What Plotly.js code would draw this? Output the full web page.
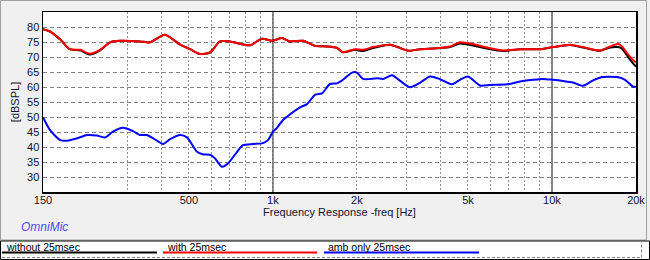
<!DOCTYPE html>
<html>
<head>
<meta charset="utf-8">
<script src="https://cdn.plot.ly/plotly-3.0.1.min.js"></script>
<style>
html,body{margin:0;padding:0;background:#f0f0f0;}
#chart{width:650px;height:260px;}
</style>
</head>
<body>
<div id="chart"></div>
<script>
// ---- data ----
const freqWith = [150,159,173,187,204,221,240,261,283,334,363,410,465,505,548,595,646,702,762,828,914,992,1078,1151,1282,1415,1562,1697,1783,1968,2103,2283,2627,2853,3048,3365,3969,4311,4682,5211,5847,6675,7680,9054,10080,11600,12915,14860,16140,17240,17820,18570,19350,20000];
const dbWith   = [79.3,78.5,75.8,72.6,72.4,71.1,72.4,74.9,75.4,75.2,74.9,77.4,74.1,72.6,71.0,71.5,75.2,75.2,74.4,73.9,76.1,75.4,76.3,75.2,75.4,73.7,73.5,73.0,71.6,72.6,72.4,73.3,74.1,73.0,72.1,72.6,73.0,73.5,74.9,74.3,73.2,72.2,72.6,72.6,73.3,74.1,73.3,72.2,73.5,74.3,73.5,71.3,69.3,68.2];

const freqWithout = [150,159,173,187,204,221,240,261,283,334,363,410,465,505,548,595,646,702,762,828,914,992,1078,1151,1282,1415,1562,1697,1783,1968,2103,2283,2627,2853,3048,3365,3969,4311,4682,5211,5847,6675,7680,9054,10080,11600,12915,14860,16140,17240,17820,18570,19350,20000];
const dbWithout   = [79.3,78.5,75.8,72.6,72.2,70.8,72.2,74.9,75.4,75.2,74.9,77.4,74.1,72.6,71.0,71.5,75.2,75.2,74.4,73.9,76.1,75.4,76.3,75.2,75.4,73.7,73.5,73.0,71.6,72.4,72.0,73.0,74.1,73.0,72.1,72.6,73.0,73.3,74.5,73.8,72.8,72.0,72.6,72.6,73.3,74.0,73.2,72.1,73.2,73.3,72.8,70.5,68.3,66.8];

const freqAmb = [150,159,173,183,199,216,234,250,267,290,315,334,354,384,404,428,465,492,535,560,600,620,657,690,744,781,848,914,960,1000,1034,1087,1123,1250,1325,1415,1500,1601,1697,1783,1920,2001,2103,2360,2480,2671,2853,3099,3365,3654,3969,4383,4682,5001,5521,5994,6900,7680,8550,9282,10080,10950,11890,12915,13910,15110,17100,18270,19510,20000];
const dbAmb   = [49.9,45.6,42.3,42.1,42.9,44.0,43.8,43.2,45.1,46.4,45.3,44.0,44.0,42.1,41.0,42.6,44.0,43.2,38.4,37.6,37.3,36.2,33.4,34.5,38.4,40.6,41.0,41.2,42.3,45.1,46.4,49.0,50.1,53.2,54.3,57.4,57.9,61.0,61.2,62.4,64.8,64.8,62.7,62.9,62.7,63.9,62.1,59.9,61.4,63.5,62.6,60.9,62.4,63.5,60.5,60.7,60.9,61.8,62.4,62.7,62.4,62.0,61.5,60.4,62.0,63.3,63.3,62.4,60.1,60.1];

const seriesNames = ["without 25msec","with 25msec","amb only 25msec"];
const yTicks = [30,35,40,45,50,55,60,65,70,75,80];
const xGridVals = [150,300,400,500,600,700,800,900,1000,2000,3000,4000,5000,6000,7000,8000,9000,10000,20000];
const xGridText = ["150","","","500","","","","","1k","2k","","","5k","","","","","10k","20k"];
const majorLines = [1000,10000];

// ---- geometry helpers (plot area: x 43..636, y 12..192 px) ----
const PL=43, PR=636, PT=12, PB=192;
const px = v => (v-PL)/(PR-PL);
const py = v => (PB-v)/(PB-PT);

const lineStyle = (c)=>({color:c,width:2,shape:'spline',smoothing:0.7});
const traces = [
  {x:freqWithout,y:dbWithout,type:'scatter',mode:'lines',name:seriesNames[0],line:lineStyle('#000000')},
  {x:freqWith,y:dbWith,type:'scatter',mode:'lines',name:seriesNames[1],line:lineStyle('#ff0000')},
  {x:freqAmb,y:dbAmb,type:'scatter',mode:'lines',name:seriesNames[2],line:lineStyle('#0000ff')}
];

const shapes = [
  // outer grey panel border
  {type:'rect',xref:'paper',yref:'paper',x0:px(0.5),x1:px(646.5),y0:py(240),y1:py(0.5),line:{color:'#a0a0a0',width:1},fillcolor:'rgba(0,0,0,0)',layer:'below'},
  // legend box
  {type:'rect',xref:'paper',yref:'paper',x0:px(0.5),x1:px(649.5),y0:py(259.5),y1:py(241),line:{color:'#000000',width:1},fillcolor:'#ffffff',layer:'below'},
  {type:'line',xref:'paper',yref:'paper',x0:px(2),x1:px(641),y0:py(257.5),y1:py(257.5),line:{color:'#808080',width:1,dash:'3px,2px'}},
  {type:'line',xref:'paper',yref:'paper',x0:px(641.5),x1:px(641.5),y0:py(257.5),y1:py(241.5),line:{color:'#808080',width:1,dash:'3px,2px'}},
  // legend sample lines
  {type:'line',xref:'paper',yref:'paper',x0:px(2),x1:px(157),y0:py(252.5),y1:py(252.5),line:{color:'#000000',width:2}},
  {type:'line',xref:'paper',yref:'paper',x0:px(163),x1:px(317),y0:py(252.5),y1:py(252.5),line:{color:'#ff0000',width:2}},
  {type:'line',xref:'paper',yref:'paper',x0:px(324),x1:px(479),y0:py(252.5),y1:py(252.5),line:{color:'#0000ff',width:2}}
];
majorLines.forEach(f=>shapes.push({type:'line',xref:'x',yref:'paper',x0:f,x1:f,y0:0,y1:1,line:{color:'#000000',width:1},layer:'below'}));

const legFont = {family:'Liberation Sans, Arial, sans-serif',size:10.5,color:'#000000'};
const annotations = [
  {xref:'paper',yref:'paper',x:px(4),y:py(246.5),xanchor:'left',yanchor:'middle',text:seriesNames[0],showarrow:false,font:legFont},
  {xref:'paper',yref:'paper',x:px(165),y:py(246.5),xanchor:'left',yanchor:'middle',text:seriesNames[1],showarrow:false,font:legFont},
  {xref:'paper',yref:'paper',x:px(326),y:py(246.5),xanchor:'left',yanchor:'middle',text:seriesNames[2],showarrow:false,font:legFont},
  {xref:'paper',yref:'paper',x:px(19),y:py(227),xanchor:'left',yanchor:'middle',text:'<i>OmniMic</i>',showarrow:false,font:{family:'Liberation Sans, Arial, sans-serif',size:12,color:'#4a4aff'}}
];

const tickFont = {family:'Liberation Sans, Arial, sans-serif',size:11,color:'#101030'};
const layout = {
  width:650,height:260,
  margin:{l:PL,r:650-PR,t:PT,b:260-PB,pad:0},
  paper_bgcolor:'#f0f0f0',plot_bgcolor:'#ffffff',
  showlegend:false,
  xaxis:{type:'log',range:[Math.log10(150),Math.log10(20000)],tickmode:'array',tickvals:xGridVals,ticktext:xGridText,
    showgrid:true,gridcolor:'#909090',gridwidth:1,griddash:'2px,2px',ticks:'',tickfont:tickFont,ticklabelstandoff:-3,
    showline:true,mirror:true,linecolor:'#000000',linewidth:1.5,zeroline:false,automargin:false,
    title:{text:'Frequency Response -freq [Hz]',font:{family:'Liberation Sans, Arial, sans-serif',size:11,color:'#101030'},standoff:1}},
  yaxis:{range:[25,85],tickmode:'array',tickvals:yTicks,showgrid:true,gridcolor:'#808080',gridwidth:1,griddash:'4px,3px',
    ticks:'',tickfont:tickFont,showline:true,mirror:true,linecolor:'#000000',linewidth:1.5,zeroline:false,automargin:false,
    title:{text:'[dBSPL]',font:{family:'Liberation Sans, Arial, sans-serif',size:11,color:'#101030'},standoff:5}},
  shapes:shapes,annotations:annotations
};
Plotly.newPlot('chart',traces,layout,{staticPlot:true,displayModeBar:false});
</script>
</body>
</html>
